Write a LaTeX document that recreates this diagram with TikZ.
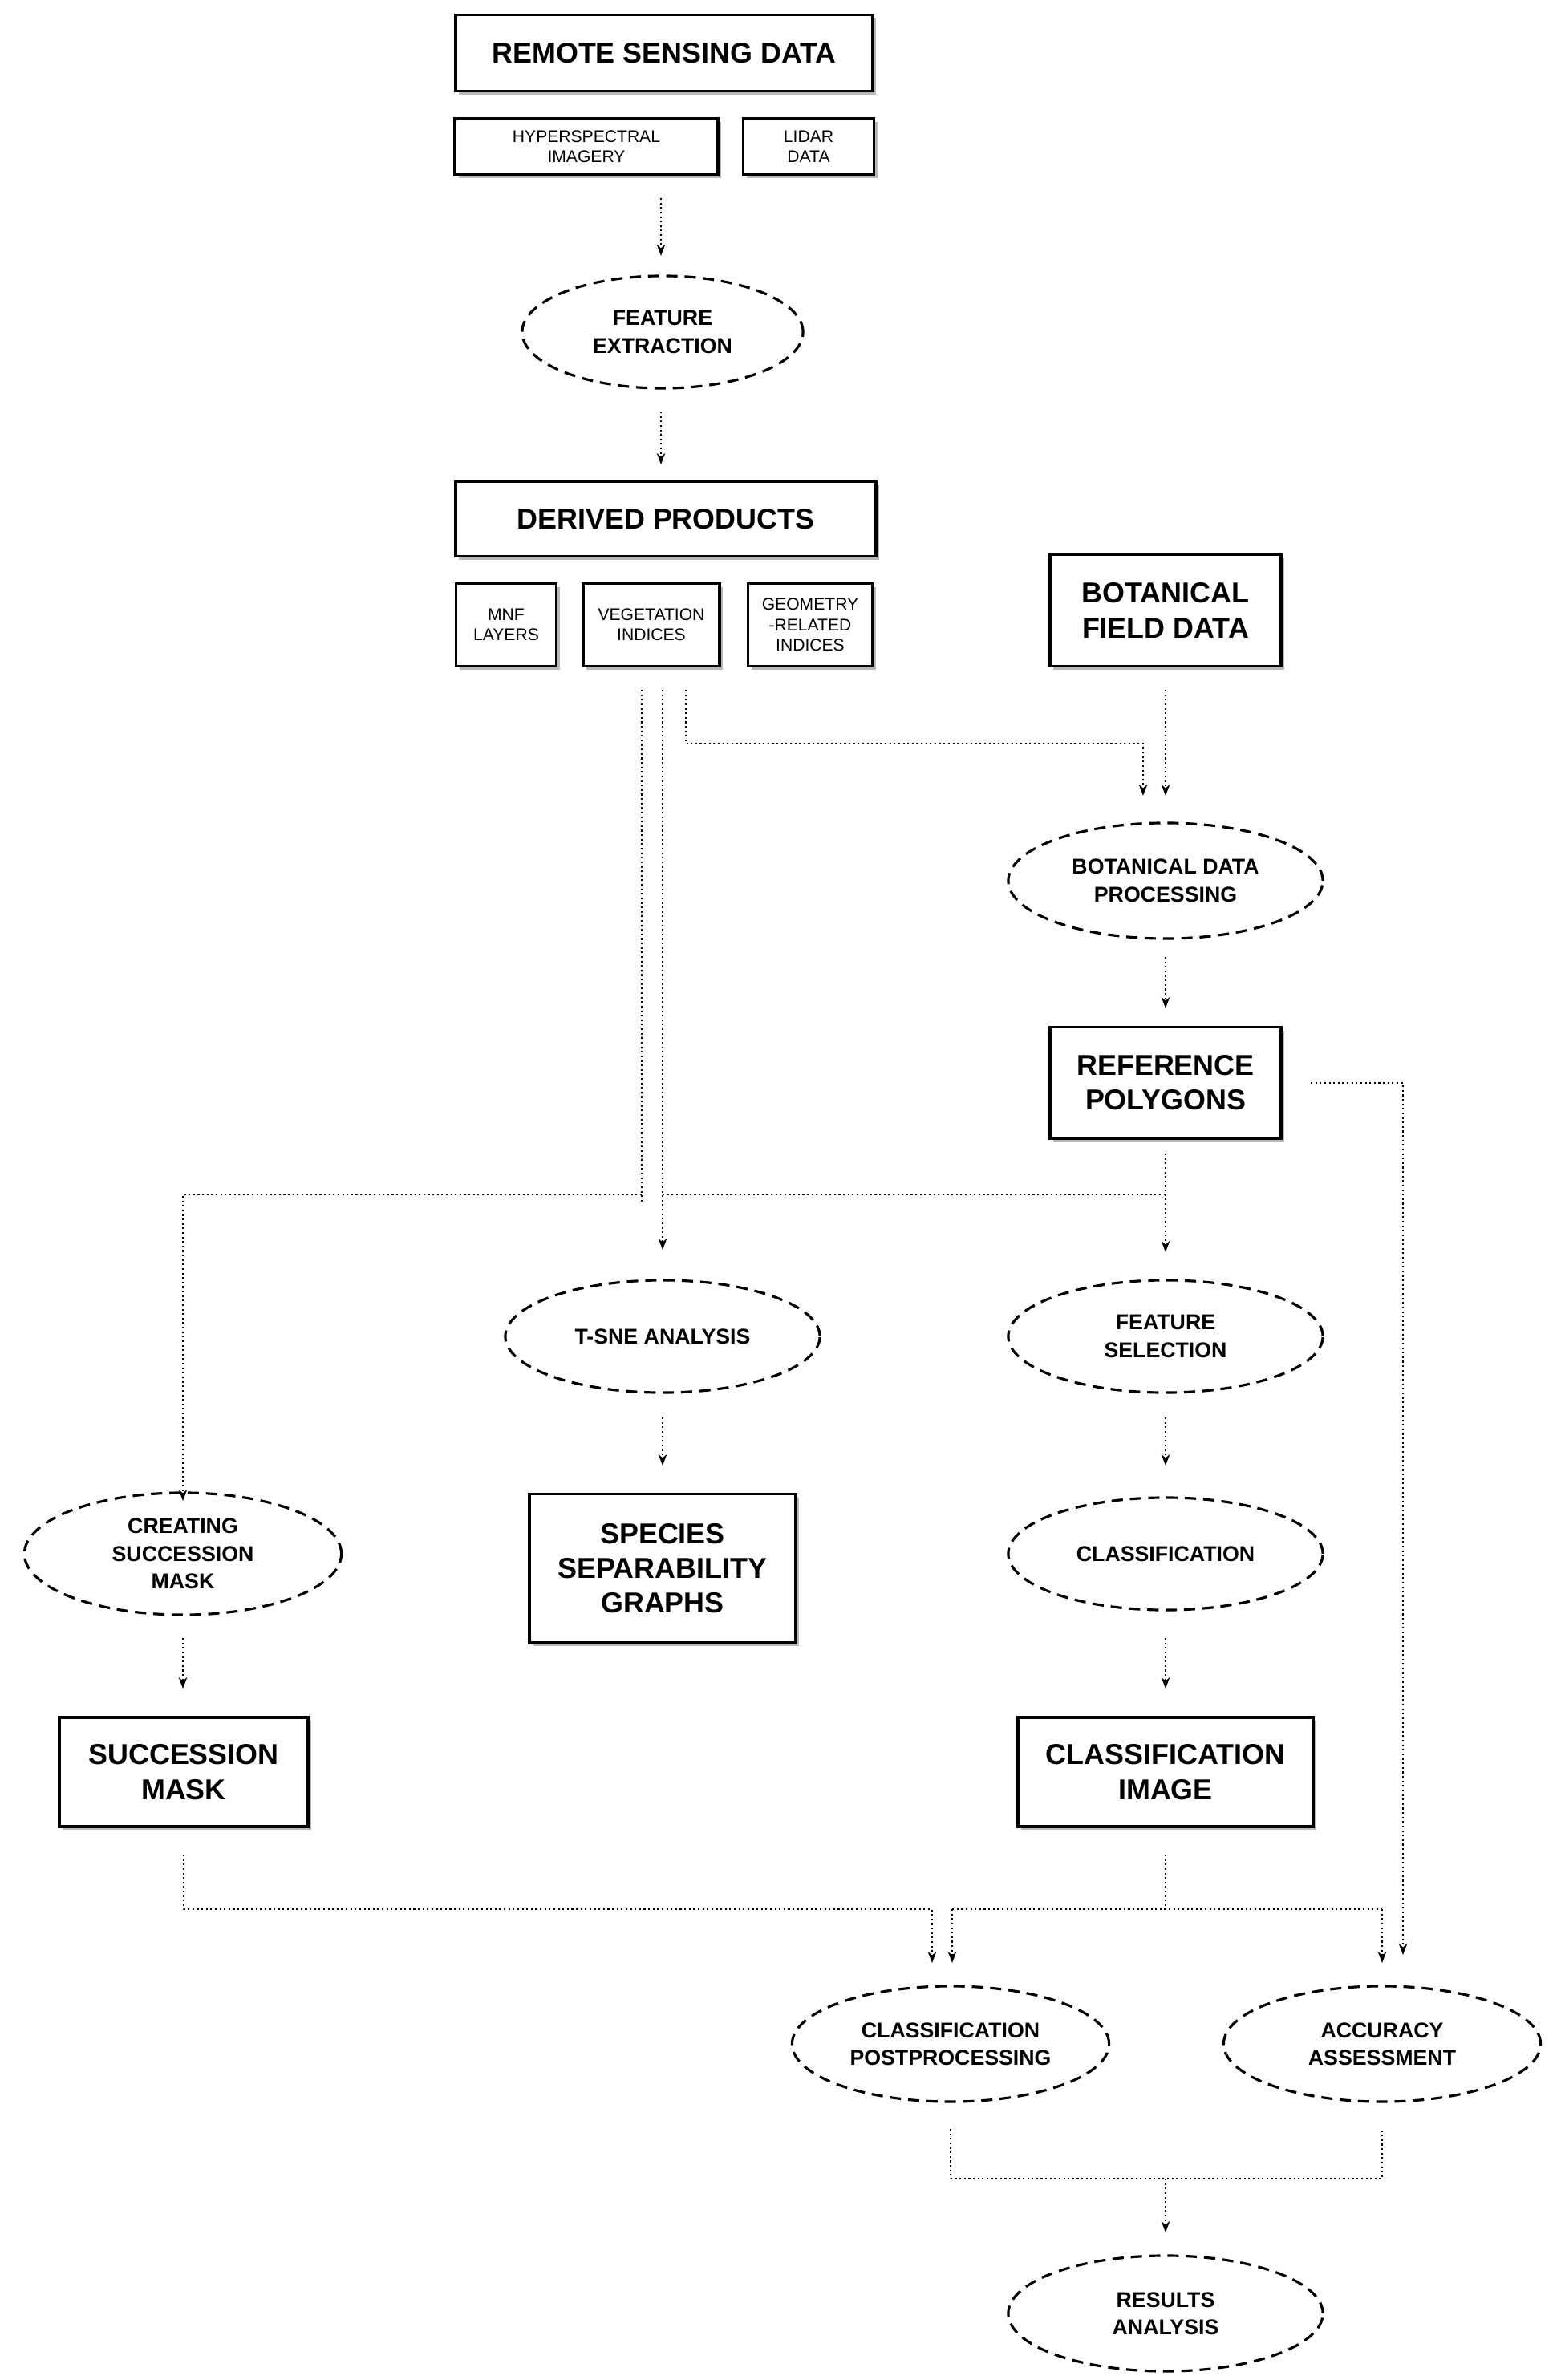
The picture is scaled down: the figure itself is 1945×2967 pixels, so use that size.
\documentclass[tikz,border=0pt]{standalone}
\usepackage{fontspec}
\setmainfont{Liberation Sans}
\usetikzlibrary{shapes.geometric,arrows.meta,shadows}
\begin{document}
\begin{tikzpicture}[x=0.01cm,y=-0.01cm,
  box/.style={draw,line width=1.1pt,fill=white,align=center,font=\bfseries\fontsize{10.2}{12.3}\selectfont,inner sep=0pt,drop shadow={shadow xshift=1.2pt,shadow yshift=-1.2pt,fill=gray!70,opacity=0.8}},
  sbox/.style={draw,line width=1.1pt,fill=white,align=center,font=\fontsize{6}{7.2}\selectfont,inner sep=0pt,drop shadow={shadow xshift=1.2pt,shadow yshift=-1.2pt,fill=gray!70,opacity=0.8}},
  ell/.style={ellipse,draw,dashed,dash pattern=on 4pt off 2.5pt,line width=0.9pt,align=center,font=\bfseries\fontsize{7.6}{9.8}\selectfont,inner sep=0pt},
  ln/.style={densely dotted,line width=0.6pt},
  ar/.style={ln,-{Stealth[length=4pt,width=3pt]}}]
\useasboundingbox (0,0) rectangle (1945,2967);
\node[box,minimum width=5.2cm,minimum height=0.95cm] (rsd) at (828,66) {REMOTE SENSING DATA};
\node[sbox,minimum width=3.27cm,minimum height=0.7cm] (hyp) at (731,183) {HYPERSPECTRAL\\IMAGERY};
\node[sbox,minimum width=1.63cm,minimum height=0.7cm] (lid) at (1008,183) {LIDAR\\DATA};
\node[ell,minimum width=3.5cm,minimum height=1.4cm] (fe) at (826,414) {FEATURE\\EXTRACTION};
\node[box,minimum width=5.24cm,minimum height=0.93cm] (dp) at (830,647) {DERIVED PRODUCTS};
\node[sbox,minimum width=1.25cm,minimum height=1.03cm] (mnf) at (631,779) {MNF\\LAYERS};
\node[sbox,minimum width=1.7cm,minimum height=1.03cm] (veg) at (812,779) {VEGETATION\\INDICES};
\node[sbox,minimum width=1.55cm,minimum height=1.03cm] (geo) at (1010,779) {GEOMETRY\\-RELATED\\INDICES};
\node[box,minimum width=2.88cm,minimum height=1.39cm] (bfd) at (1453,761) {BOTANICAL\\FIELD DATA};
\node[ell,minimum width=3.92cm,minimum height=1.44cm] (bdp) at (1453,1098) {BOTANICAL DATA\\PROCESSING};
\node[box,minimum width=2.88cm,minimum height=1.39cm] (rp) at (1453,1350) {REFERENCE\\POLYGONS};
\node[ell,minimum width=3.92cm,minimum height=1.4cm] (tsne) at (826,1666) {T-SNE ANALYSIS};
\node[box,minimum width=3.31cm,minimum height=1.85cm] (ssg) at (826,1955) {SPECIES\\SEPARABILITY\\GRAPHS};
\node[ell,minimum width=3.92cm,minimum height=1.4cm] (fs) at (1453,1666) {FEATURE\\SELECTION};
\node[ell,minimum width=3.92cm,minimum height=1.4cm] (cl) at (1453,1937) {CLASSIFICATION};
\node[box,minimum width=3.68cm,minimum height=1.36cm] (ci) at (1453,2209) {CLASSIFICATION\\IMAGE};
\node[ell,minimum width=3.95cm,minimum height=1.52cm] (csm) at (228,1937) {CREATING\\SUCCESSION\\MASK};
\node[box,minimum width=3.1cm,minimum height=1.36cm] (sm) at (229,2209) {SUCCESSION\\MASK};
\node[ell,minimum width=3.95cm,minimum height=1.44cm] (cpp) at (1185,2548) {CLASSIFICATION\\POSTPROCESSING};
\node[ell,minimum width=3.95cm,minimum height=1.44cm] (aa) at (1723,2548) {ACCURACY\\ASSESSMENT};
\node[ell,minimum width=3.92cm,minimum height=1.44cm] (ra) at (1453,2884) {RESULTS\\ANALYSIS};
% connectors
\coordinate (a1) at (824,247); \coordinate (a2) at (824,319);
\draw[ar] (a1) -- (a2);
\coordinate (b1) at (824,513); \coordinate (b2) at (824,579);
\draw[ar] (b1) -- (b2);
\coordinate (v1) at (800,860); \coordinate (v2) at (826,860); \coordinate (v3) at (855,860);
\coordinate (bf1) at (1453,860);
\draw[ar] (bf1) -- (1453,992);
\draw[ar] (v3) -- (855,927) -- (1425,927) -- (1425,992);
\draw[ar] (1453,1193) -- (1453,1257);
\coordinate (rpr) at (1634,1350);
\draw[ar] (rpr) -- (1749,1350) -- (1749,2437);
\coordinate (rpd) at (1453,1438);
\draw[ar] (rpd) -- (1453,1561);
\draw[ln] (826,1489) -- (1453,1489);
\draw[ar] (v2) -- (826,1558);
\draw[ln] (v1) -- (800,1500);
\draw[ar] (800,1489) -- (228,1489) -- (228,1871);
\draw[ar] (826,1767) -- (826,1827);
\draw[ar] (1453,1767) -- (1453,1827);
\draw[ar] (1453,2042) -- (1453,2105);
\draw[ar] (228,2042) -- (228,2105);
\coordinate (sm1) at (229,2312); \coordinate (ci1) at (1453,2312);
\draw[ar] (sm1) -- (229,2380) -- (1162,2380) -- (1162,2447);
\draw[ln] (ci1) -- (1453,2380);
\draw[ln] (1187,2380) -- (1723,2380);
\draw[ar] (1187,2380) -- (1187,2447);
\draw[ar] (1723,2380) -- (1723,2447);
\coordinate (cp1) at (1185,2654); \coordinate (aa1) at (1723,2654);
\draw[ln] (cp1) -- (1185,2716) -- (1723,2716) -- (aa1);
\draw[ar] (1453,2716) -- (1453,2783);
\end{tikzpicture}
\end{document}
